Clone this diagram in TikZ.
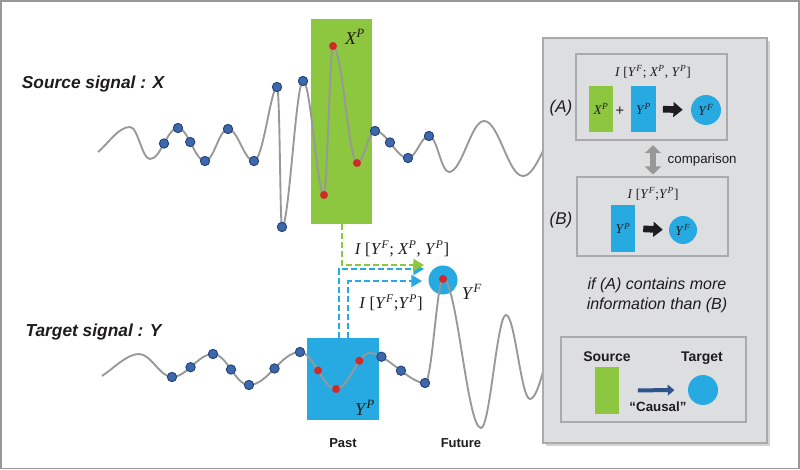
\documentclass[tikz,border=0pt]{standalone}
\usepackage{fontspec}
\setmainfont{Liberation Sans}
\newfontfamily\tms{Liberation Serif}
\usetikzlibrary{arrows.meta,shadows}

\definecolor{xgreen}{RGB}{141,198,63}
\definecolor{yblue}{RGB}{39,170,225}
\definecolor{dotblue}{RGB}{62,104,172}
\definecolor{dotedge}{RGB}{36,66,122}
\definecolor{dotred}{RGB}{208,42,42}
\definecolor{sigcol}{RGB}{152,152,152}
\definecolor{panelgray}{RGB}{221,222,224}
\definecolor{edgegray}{RGB}{170,170,170}
\definecolor{txt}{RGB}{30,28,28}
\definecolor{causalblue}{RGB}{46,84,140}

\newcommand\vr[2]{\textit{#1}\textsuperscript{\textit{#2}}}

\begin{document}
\begin{tikzpicture}[x=0.75pt,y=-0.75pt,
    sigline/.style={draw=sigcol,line width=1.4pt},
    dotb/.style={circle,fill=dotblue,draw=dotedge,line width=0.7pt,inner sep=0pt,minimum size=7pt},
    dotr/.style={circle,fill=dotred,inner sep=0pt,minimum size=6pt},
    xrect/.style={fill=xgreen,inner sep=0pt},
    yrect/.style={fill=yblue,inner sep=0pt},
    ycirc/.style={circle,fill=yblue,inner sep=0pt},
    sigtitle/.style={text=txt,font=\fontsize{13}{15}\selectfont\bfseries\itshape},
    mlbl/.style={text=txt,font=\tms\fontsize{13.5}{15}\selectfont},
    ilbl/.style={text=txt,font=\tms\fontsize{12.5}{14}\selectfont},
    slbl/.style={text=txt,font=\tms\fontsize{10}{12}\selectfont},
    tlbl/.style={text=txt,font=\fontsize{9.75}{12}\selectfont\bfseries},
    gdash/.style={draw=xgreen,line width=1.5pt,dash pattern=on 4.5pt off 2.25pt,-{Triangle[length=8pt,width=9pt]}},
    bdash/.style={draw=yblue,line width=1.5pt,dash pattern=on 4.5pt off 2.25pt,-{Triangle[length=8pt,width=9pt]}},
    inbox/.style={draw=edgegray,fill=panelgray,line width=0.8pt,inner sep=0pt},
    blockarr/.style={draw=txt,line width=5pt,-{Triangle[length=7pt,width=11pt]}},
    cmparr/.style={draw=sigcol,line width=4.5pt,{Triangle[length=6pt,width=12pt]}-{Triangle[length=6pt,width=12pt]}},
    causarr/.style={draw=causalblue,line width=3pt,-{Triangle[length=5pt,width=8pt]}}]
\useasboundingbox (0,0) rectangle (800,470);

% windows of the past and the future sample
\node[xrect,minimum width=45.75pt,minimum height=153.75pt] (xp) at (341.5,121.5) {};
\node[yrect,minimum width=54pt,minimum height=61.5pt] (yp) at (343,379) {};
\node[ycirc,minimum size=21.75pt] (yf) at (443,280) {};

\coordinate (tipa) at (424,265);
\coordinate (tipb) at (424,269);
\coordinate (tipc) at (422,281);
\draw[bdash] ([xshift=-3pt]yp.north) |- (tipb);
\draw[gdash] (xp.south) |- (tipa);
\draw[bdash] ([xshift=4pt]yp.north) |- (tipc);

% source signal
\draw[sigline] (98,152) .. controls +(10,-8) and +(-12,0) .. (130,127)
    .. controls +(8,0) and +(-8,0) .. (150,159)
    .. controls +(11,0) and +(-11,0) .. (178,128) node[dotb,pos=.5] (s1) {} node[dotb] (s2) {}
    .. controls +(10,0) and +(-10,0) .. (205,161) node[dotb,pos=.45] (s3) {} node[dotb] (s4) {}
    .. controls +(9,0) and +(-9,0) .. (228,129) node[dotb] (s5) {}
    .. controls +(10,0) and +(-10,0) .. (254,161) node[dotb] (s6) {}
    .. controls +(9,0) and +(-6,0) .. (277,87) node[dotb] (s7) {}
    .. controls +(3,0) and +(-2,0) .. (282,227) node[dotb] (s8) {}
    .. controls +(7,0) and +(-7,0) .. (303,81) node[dotb] (s9) {}
    .. controls +(8,0) and +(-7,0) .. (324,195) node[dotr] (r1) {}
    .. controls +(3,0) and +(-3,0) .. (333,46) node[dotr] (r2) {}
    .. controls +(9,0) and +(-8,0) .. (357,163) node[dotr] (r3) {}
    .. controls +(7,0) and +(-7,0) .. (375,131) node[dotb] (s10) {}
    .. controls +(12,0) and +(-12,0) .. (408,158) node[dotb,pos=.45] (s11) {} node[dotb] (s12) {}
    .. controls +(8,0) and +(-8,0) .. (429,136) node[dotb] (s13) {}
    .. controls +(8,0) and +(-8,0) .. (449,172)
    .. controls +(13,0) and +(-13,0) .. (484,121)
    .. controls +(15,0) and +(-15,0) .. (523,176)
    .. controls +(15,0) and +(-15,0) .. (562,128);

% target signal
\draw[sigline] (102,376) .. controls +(12,-8) and +(-12,0) .. (139,354)
    .. controls +(12,0) and +(-12,0) .. (172,377) node[dotb] (t1) {}
    .. controls +(15,0) and +(-15,0) .. (213,354) node[dotb,pos=.45] (t2) {} node[dotb] (t3) {}
    .. controls +(14,0) and +(-14,0) .. (249,385) node[dotb,pos=.5] (t4) {} node[dotb] (t5) {}
    .. controls +(19,0) and +(-19,0) .. (300,352) node[dotb,pos=.5] (t6) {} node[dotb] (t7) {}
    .. controls +(13,0) and +(-13,0) .. (336,389) node[dotr,pos=.5] (q1) {} node[dotr] (q2) {}
    .. controls +(13,0) and +(-13,0) .. (370,353) node[dotr,pos=.7] (q3) {}
    .. controls +(16,0) and +(-16,0) .. (425,383) node[dotb,pos=.22] (t8) {} node[dotb,pos=.56] (t9) {} node[dotb] (t10) {}
    .. controls +(7,0) and +(-6,0) .. (443,279) node[dotr] (q4) {}
    .. controls +(14,0) and +(-14,0) .. (481,428)
    .. controls +(9,0) and +(-9,0) .. (506,315)
    .. controls +(9,0) and +(-9,0) .. (530,399)
    .. controls +(11,0) and +(-11,0) .. (560,330);

\node[sigtitle] (srcsig) at (93,84) {Source signal : X};
\node[sigtitle] (tgtsig) at (93.5,332) {Target signal : Y};
\node[mlbl] (xplbl) at (355,37) {\vr{X}{P}};
\node[mlbl] (yplbl) at (365,408) {\vr{Y}{P}};
\node[mlbl] (yflbl) at (472,292) {\vr{Y}{F}};
\node[ilbl] (infa) at (402,249) {\textit{I} [\vr{Y}{F}; \vr{X}{P}, \vr{Y}{P}]};
\node[ilbl] (infb) at (391,303) {\textit{I} [\vr{Y}{F};\vr{Y}{P}]};
\node[tlbl] (past) at (343,443) {Past};
\node[tlbl] (future) at (461,443) {Future};

% summary panel
\draw[draw=edgegray,fill=panelgray,line width=0.8pt,
      drop shadow={shadow xshift=2pt,shadow yshift=-2pt,opacity=.35}] (543,38) rectangle (767,443);

\node[inbox,minimum width=113.25pt,minimum height=64.5pt] (boxa) at (651.5,97) {};
\node[inbox,minimum width=113.25pt,minimum height=59.25pt] (boxb) at (652.5,216.5) {};
\node[inbox,minimum width=138.75pt,minimum height=63.75pt] (boxc) at (653.5,379.5) {};

\node[text=txt,font=\fontsize{12.75}{14}\selectfont\itshape] (la) at (561,108) {(A)};
\node[text=txt,font=\fontsize{12.75}{14}\selectfont\itshape] (lb) at (561,220) {(B)};

\node[slbl] (ia) at (653,72) {\textit{I} [\vr{Y}{F}; \vr{X}{P}, \vr{Y}{P}]};
\node[xrect,slbl,minimum width=18pt,minimum height=34.5pt] (xpa) at (601,109) {\vr{X}{P}};
\node[text=txt,font=\fontsize{11}{12}\selectfont] (plus) at (620,111) {+};
\node[yrect,slbl,minimum width=18.75pt,minimum height=34.5pt] (ypa) at (643.5,109) {\vr{Y}{P}};
\node[ycirc,slbl,minimum size=22.5pt] (yfa) at (706,110) {\vr{Y}{F}};
\draw[blockarr,shorten <=5pt,shorten >=6pt] (ypa.east) -- (yfa.west);

\draw[cmparr,shorten <=3.5pt,shorten >=1.5pt] (boxa.south -| 653,0) -- (boxb.north -| 653,0);
\node[text=txt,font=\fontsize{10}{12}\selectfont,anchor=west] (cmp) at (663,160) {comparison};

\node[slbl] (ib) at (653,194) {\textit{I} [\vr{Y}{F};\vr{Y}{P}]};
\node[yrect,slbl,minimum width=18pt,minimum height=35.25pt] (ypb) at (623,228.5) {\vr{Y}{P}};
\node[ycirc,slbl,minimum size=21pt] (yfb) at (683,230) {\vr{Y}{F}};
\draw[blockarr,shorten <=6pt,shorten >=4.5pt] (ypb.east) -- (yfb.west);

\node[text=txt,font=\fontsize{12}{15}\selectfont\itshape,align=center] (cond) at (657,295)
    {if (A) contains more\\information than (B)};

\node[text=txt,font=\fontsize{10.5}{12}\selectfont\bfseries] (srclbl) at (607,357) {Source};
\node[text=txt,font=\fontsize{10.5}{12}\selectfont\bfseries] (tgtlbl) at (702,358) {Target};
\node[xrect,minimum width=18pt,minimum height=35.25pt] (srcr) at (607,390.5) {};
\node[ycirc,minimum size=22.5pt] (tgtc) at (703,390) {};
\draw[causarr,shorten <=14pt,shorten >=10pt] (srcr.east) -- (tgtc.west);
\node[text=txt,font=\fontsize{10}{12}\selectfont\bfseries] (caus) at (658,407) {``Causal''};

% outer frame
\draw[sigcol,line width=1.2pt] (0.8,0.8) rectangle (799.2,468.6);
\end{tikzpicture}
\end{document}
